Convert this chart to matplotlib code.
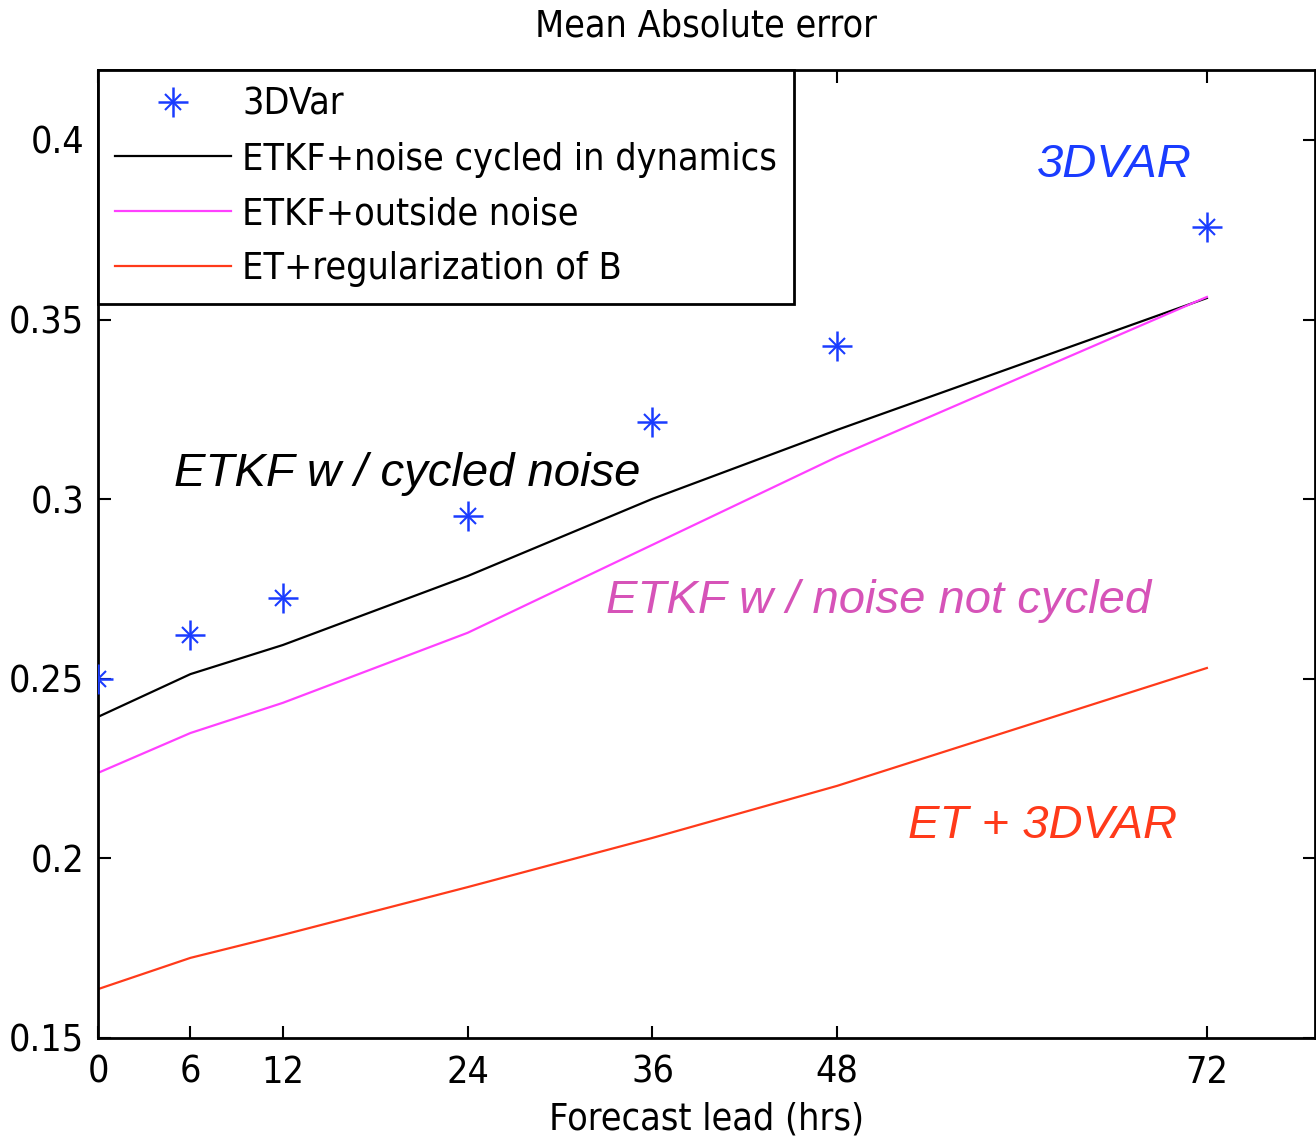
import matplotlib
matplotlib.use("Agg")
import matplotlib.pyplot as plt
from matplotlib.legend_handler import HandlerTuple
from matplotlib.lines import Line2D

lead = [0, 6, 12, 24, 36, 48, 72]
var3d = [0.250, 0.2622, 0.2725, 0.2953, 0.3215, 0.3427, 0.3758]
etkf_cycled = [0.2394, 0.2513, 0.2594, 0.2786, 0.3001, 0.3193, 0.3560]
etkf_outside = [0.2238, 0.2349, 0.2433, 0.2628, 0.2873, 0.3118, 0.3563]
et_regB = [0.1636, 0.1723, 0.1787, 0.1920, 0.2057, 0.2202, 0.2530]
yticks = [0.15, 0.2, 0.25, 0.3, 0.35, 0.4]
ytick_labels = ["0.15", "0.2", "0.25", "0.3", "0.35", "0.4"]

plt.rcParams['font.family'] = ['DejaVu Sans']
tick_font = dict(family='DejaVu Sans', stretch='condensed')

fig = plt.figure(figsize=(13.16, 11.41), dpi=100)
ax = fig.add_axes([0.0745, 0.0903, 0.9245, 0.8484])

blue = '#1a3cff'
ax.plot(lead, var3d, linestyle='none', marker='+', markersize=22, mew=1.8, color=blue, zorder=3)
ax.plot(lead, var3d, linestyle='none', marker='x', markersize=11, mew=1.5, color=blue, zorder=3)
l1, = ax.plot(lead, etkf_cycled, color='black', lw=1.6)
l2, = ax.plot(lead, etkf_outside, color='#ff40ff', lw=1.6)
l3, = ax.plot(lead, et_regB, color='#ff3a1a', lw=1.6)

ax.set_xlim(0, 79)
ax.set_ylim(0.15, 0.4195)
ax.set_xticks(lead)
ax.set_xticklabels([str(v) for v in lead], fontsize=27, **tick_font)
ax.set_yticks(yticks)
ax.set_yticklabels(ytick_labels, fontsize=27, **tick_font)
ax.tick_params(direction='in', length=9, width=1.5, top=True, right=True)
ax.tick_params(axis='x', pad=12)
ax.tick_params(axis='y', pad=10)
for s in ax.spines.values():
    s.set_linewidth(2)

ax.set_xlabel('Forecast lead (hrs)', fontsize=27, labelpad=8, **tick_font)
ax.set_title('Mean Absolute error', fontsize=27, pad=24, **tick_font)

h_plus = Line2D([], [], linestyle='none', marker='+', markersize=22, mew=1.8, color=blue)
h_x = Line2D([], [], linestyle='none', marker='x', markersize=11, mew=1.5, color=blue)
leg = ax.legend([(h_plus, h_x), l1, l2, l3],
                ['3DVar', 'ETKF+noise cycled in dynamics', 'ETKF+outside noise', 'ET+regularization of B'],
                handler_map={tuple: HandlerTuple(ndivide=1)},
                loc='upper left', borderaxespad=0, fancybox=False, edgecolor='black',
                framealpha=1, handlelength=3.1, handletextpad=0.3, labelspacing=0.5,
                borderpad=0.45, prop=dict(family='DejaVu Sans', stretch='condensed', size=27))
leg.get_frame().set_linewidth(2)

ax.text(66.0, 0.393, '3DVAR', fontsize=34, style='italic',
        family='Liberation Sans', color=blue, ha='center', va='center')
ax.text(20.1, 0.307, 'ETKF w / cycled noise', fontsize=34, style='italic',
        family='Liberation Sans', color='black', ha='center', va='center')
ax.text(50.7, 0.2716, 'ETKF w / noise not cycled', fontsize=34, style='italic',
        family='Liberation Sans', color='#d653b8', ha='center', va='center')
ax.text(61.3, 0.209, 'ET + 3DVAR', fontsize=34, style='italic',
        family='Liberation Sans', color='#ff3a1a', ha='center', va='center')

fig.savefig('out.png', dpi=100)
